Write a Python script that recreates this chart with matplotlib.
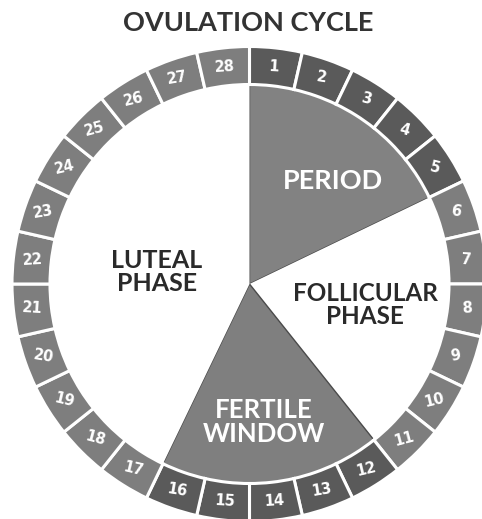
import matplotlib
matplotlib.use("Agg")
import matplotlib.pyplot as plt
from matplotlib.patches import Wedge
import numpy as np

title = "OVULATION CYCLE"
days = list(range(1, 29))
phase_names = ["PERIOD", "FOLLICULAR\nPHASE", "FERTILE\nWINDOW", "LUTEAL\nPHASE"]
phase_days = [5, 6, 5, 12]
phase_fill = ["#828282", "#ffffff", "#7f7f7f", "#ffffff"]
phase_text = ["#ffffff", "#2a2a2a", "#ffffff", "#2a2a2a"]
ring_colors = ["#5a5a5a", "#7e7e7e", "#5a5a5a", "#7e7e7e"]

W, H = 482, 519
fig = plt.figure(figsize=(W / 100, H / 100), dpi=100)
ax = fig.add_axes([0, 0, 1, 1])
ax.set_xlim(0, W)
ax.set_ylim(0, H)
ax.set_aspect("equal")
ax.axis("off")

cx, cy = 249.5, H - 284
r_out, ring_w = 237.5, 38
r_in = r_out - ring_w
step = 360 / len(days)

# inner pie
start = 0
label_pos = [(333, 181), (365, 305), (264, 422), (157, 272)]
label_size = [19.5, 17.5, 18.5, 18]
for name, n, fc, tc, (lx, ly), fs in zip(phase_names, phase_days, phase_fill,
                                         phase_text, label_pos, label_size):
    t2 = 90 - start * step
    t1 = 90 - (start + n) * step
    ec = "#4a4a4a" if fc != "#ffffff" else "none"
    ax.add_patch(Wedge((cx, cy), r_in, t1, t2, facecolor=fc, edgecolor=ec, linewidth=1.0, zorder=1))
    ax.text(lx, H - ly, name, color=tc, fontsize=fs, fontweight="bold", family="Lato",
            ha="center", va="center", linespacing=1.0, zorder=3)
    start += n

# ring
day_color = []
for n, c in zip(phase_days, ring_colors):
    day_color += [c] * n
for d, c in zip(days, day_color):
    t2 = 90 - (d - 1) * step
    t1 = 90 - d * step
    ax.add_patch(Wedge((cx, cy), r_out, t1, t2, width=ring_w, facecolor=c,
                       edgecolor="white", linewidth=2.2, zorder=2))
    mid = np.deg2rad((t1 + t2) / 2)
    rm = r_out - ring_w / 2
    ang = np.rad2deg(mid) % 360
    rot_t = ang - 90 if ang <= 180 else ang - 270
    tilt = 15 * np.sin(np.deg2rad(2 * rot_t))
    ax.text(cx + rm * np.cos(mid), cy + rm * np.sin(mid), str(d), color="white",
            fontsize=10.5, fontweight="bold", family="DejaVu Sans",
            rotation=tilt, ha="center", va="center", zorder=3)

ax.text(248, H - 23, title, color="#333333", fontsize=19.5, fontweight="bold",
        family="Lato", ha="center", va="center")

fig.savefig("out.png", dpi=100)
